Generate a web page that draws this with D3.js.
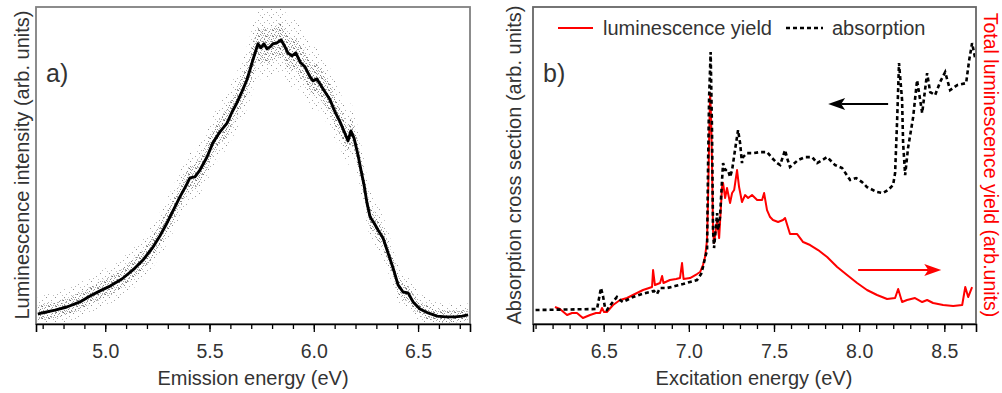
<!DOCTYPE html>
<html>
<head>
<meta charset="utf-8">
<script src="https://cdn.jsdelivr.net/npm/d3@7/dist/d3.min.js"></script>
<style>
  html, body { margin: 0; padding: 0; background: #fff; }
  svg { display: block; font-family: "Liberation Sans", Arial, Helvetica, sans-serif; }
</style>
</head>
<body>
<svg id="chart" width="1002" height="393"></svg>
<script>
// ---------------- Panel a data: emission spectrum (smoothed) ----------------
const emissionEnergy = [4.677,4.696,4.759,4.816,4.879,4.927,4.975,5.023,5.080,5.133,5.181,5.229,5.262,5.296,5.329,5.358,5.387,5.406,5.430,5.454,5.488,5.516,5.550,5.584,5.608,5.631,5.655,5.679,5.694,5.708,5.723,5.732,5.747,5.761,5.776,5.790,5.804,5.823,5.843,5.857,5.876,5.895,5.914,5.934,5.958,5.982,5.996,6.015,6.030,6.054,6.078,6.102,6.126,6.150,6.164,6.178,6.193,6.212,6.226,6.241,6.255,6.270,6.289,6.308,6.332,6.356,6.380,6.404,6.428,6.452,6.476,6.509,6.548,6.591,6.634,6.677,6.711,6.740];
const emissionIntensity = [3.5,3.9,4.9,6.0,7.8,9.9,11.7,13.4,15.9,19.1,22.6,27.2,31.1,35.7,40.6,44.9,48.8,51.6,52.0,54.4,59.0,64.0,67.9,71.0,74.9,78.1,82.0,86.2,89.8,93.3,96.8,99.0,97.6,99.0,97.2,97.9,99.0,99.3,100.4,98.6,95.8,94.7,95.8,92.6,90.8,87.3,85.9,86.6,84.8,82.0,79.2,74.9,71.4,67.2,64.7,68.2,65.7,59.7,54.4,49.1,42.8,37.8,35.7,33.2,30.4,25.1,19.8,13.8,11.3,11.0,7.8,5.3,3.9,2.8,2.5,2.5,2.8,3.2];
// half-width of the raw-data scatter around the smoothed curve
const scatterEnergy = [4.66,5.0,5.3,5.6,5.75,5.9,6.1,6.3,6.5,6.76];
const scatterSpread = [2.4,2.8,3.4,4.2,5.2,5.0,4.4,3.4,2.2,1.6];

// ---------------- Panel b data ----------------
const absEnergy = [6.100,6.461,6.484,6.496,6.508,6.519,6.549,6.578,6.596,6.613,6.672,6.725,6.772,6.795,6.813,6.831,6.872,6.919,6.966,7.007,7.048,7.072,7.083,7.095,7.107,7.113,7.119,7.128,7.136,7.142,7.148,7.166,7.172,7.183,7.195,7.201,7.213,7.230,7.242,7.254,7.271,7.289,7.301,7.312,7.318,7.342,7.377,7.418,7.459,7.489,7.518,7.536,7.565,7.577,7.594,7.641,7.683,7.724,7.753,7.812,7.859,7.900,7.947,7.982,8.017,8.046,8.105,8.140,8.170,8.199,8.211,8.223,8.234,8.252,8.258,8.270,8.287,8.317,8.340,8.370,8.399,8.417,8.446,8.475,8.505,8.534,8.575,8.628,8.646,8.663,8.681];
const absValue = [4.9,5.25,12.6,9.8,5.6,4.9,7.35,9.45,8.4,7.7,9.45,10.5,11.2,11.6,10.5,12.6,12.6,13.3,14.0,14.7,15.4,17.5,19.95,23.1,25.9,56.35,79.45,95.2,67.9,32.9,26.6,38.85,32.9,37.45,50.4,56.35,53.9,53.9,51.45,53.9,60.9,67.9,63.35,56.35,58.45,59.85,59.85,60.2,60.2,58.1,56.35,55.65,60.9,58.1,54.95,57.4,58.45,58.45,56.35,58.45,55.65,54.6,50.4,51.1,49.7,47.95,46.2,45.85,46.9,48.65,52.85,71.4,91.35,78.4,63.35,52.15,61.6,72.45,85.4,73.85,87.85,81.2,80.15,84.7,88.2,81.9,83.65,84.35,92.4,98.35,93.1];

const lumEnergy = [6.214,6.243,6.285,6.314,6.343,6.378,6.420,6.455,6.478,6.490,6.502,6.519,6.555,6.596,6.637,6.672,6.731,6.784,6.790,6.801,6.831,6.843,6.851,6.889,6.925,6.948,6.960,6.969,7.007,7.048,7.066,7.083,7.095,7.107,7.113,7.119,7.125,7.131,7.136,7.142,7.148,7.166,7.178,7.195,7.201,7.213,7.224,7.242,7.254,7.266,7.283,7.295,7.312,7.330,7.348,7.371,7.401,7.430,7.442,7.459,7.477,7.494,7.524,7.553,7.565,7.594,7.636,7.671,7.712,7.759,7.812,7.871,7.929,7.988,8.046,8.105,8.164,8.211,8.229,8.252,8.281,8.328,8.370,8.399,8.434,8.493,8.552,8.605,8.623,8.640,8.663];
const lumValue = [5.95,5.25,3.15,3.85,3.85,2.1,3.15,3.85,3.85,5.6,4.2,4.2,6.65,8.4,9.1,10.15,11.9,12.95,18.9,13.65,14.35,16.8,14.35,15.4,15.75,16.1,21.35,15.75,16.1,17.5,18.2,20.65,23.45,29.4,44.45,64.4,80.85,71.4,56.35,32.9,28.35,36.4,30.1,47.95,49.35,44.1,47.6,42.35,45.85,46.9,53.9,47.95,42.7,45.15,44.1,45.15,43.4,43.4,45.85,39.9,37.45,36.4,35.7,36.4,37.1,31.5,31.5,28.7,27.65,25.9,23.45,19.95,17.15,14.35,11.9,10.15,8.75,9.1,12.25,7.7,8.4,9.1,7.7,8.4,7.35,6.65,6.3,6.65,12.95,9.45,12.95];

// ---------------- Ticks & labels ----------------
const aMajorTicks = [5.0, 5.5, 6.0, 6.5];
const aMinorTicks = [4.7,4.8,4.9,5.0,5.1,5.2,5.3,5.4,5.5,5.6,5.7,5.8,5.9,6.0,6.1,6.2,6.3,6.4,6.5,6.6,6.7];
const bMajorTicks = [6.5, 7.0, 7.5, 8.0, 8.5];
const bMinorTicks = [6.1,6.2,6.3,6.4,6.5,6.6,6.7,6.8,6.9,7.0,7.1,7.2,7.3,7.4,7.5,7.6,7.7,7.8,7.9,8.0,8.1,8.2,8.3,8.4,8.5,8.6];
const legendLabels = ["luminescence yield", "absorption"];
// annotation arrows in data coordinates: [fromE, toE, value]
const absArrow = [8.170, 7.818, 77];
const lumArrow = [7.994, 8.482, 18.9];

// ---------------- Drawing ----------------
const svg = d3.select("#chart");
const TXT = "#333";
const FS = 19.5;

const defs = svg.append("defs");
// stipple textures for the raw-data scatter
const pd = defs.append("pattern").attr("id","dense").attr("patternUnits","userSpaceOnUse").attr("width",7).attr("height",6);
[[0,0,"#6e6e6e"],[3,1,"#959595"],[5,3,"#808080"],[1,4,"#8f8f8f"],[4,5,"#a8a8a8"],[6,0,"#a5a5a5"],[2,2,"#b0b0b0"],[6,5,"#999"],[2,5,"#bbb"]].forEach(d=>{
  pd.append("rect").attr("x",d[0]).attr("y",d[1]).attr("width",1).attr("height",1).attr("fill",d[2]);
});
const ps = defs.append("pattern").attr("id","sparse").attr("patternUnits","userSpaceOnUse").attr("width",9).attr("height",8);
[[1,1,"#909090"],[6,4,"#a8a8a8"],[3,6,"#b4b4b4"],[8,7,"#c0c0c0"]].forEach(d=>{
  ps.append("rect").attr("x",d[0]).attr("y",d[1]).attr("width",1).attr("height",1).attr("fill",d[2]);
});

function drawAxis(x, y0, major, minor) {
  svg.append("g").attr("transform",`translate(0,${y0})`)
    .call(d3.axisBottom(x).tickValues(minor).tickSize(5).tickFormat(""))
    .call(g => { g.select(".domain").remove(); g.selectAll("line").attr("stroke","#000").attr("stroke-width",1.3); });
  svg.append("g").attr("transform",`translate(0,${y0})`)
    .call(d3.axisBottom(x).tickValues(major).tickSize(8).tickPadding(12).tickFormat(d3.format(".1f")))
    .call(g => {
      g.select(".domain").attr("stroke","#000").attr("stroke-width",1.6);
      g.selectAll("line").attr("stroke","#000").attr("stroke-width",1.3);
      g.selectAll("text").attr("fill",TXT).style("font-size",FS+"px").attr("font-family",null);
    });
}

function arrow(x1, x2, y, color) {
  const dir = Math.sign(x2 - x1);
  const L = 17, W = 6, notch = 4;
  svg.append("line").attr("x1",x1).attr("x2",x2 - dir*(L-notch)).attr("y1",y).attr("y2",y)
    .attr("stroke",color).attr("stroke-width",2);
  svg.append("path")
    .attr("d",`M${x2},${y} L${x2-dir*L},${y-W} L${x2-dir*(L-notch)},${y} L${x2-dir*L},${y+W} Z`)
    .attr("fill",color);
}

// ---------- Panel a ----------
const ax = d3.scaleLinear().domain([4.668, 6.749]).range([36, 470]);
const ay = d3.scaleLinear().domain([0, 112]).range([324, 7]);
svg.append("rect").attr("x",36).attr("y",7).attr("width",434).attr("height",317)
  .attr("fill","none").attr("stroke","#808080").attr("stroke-width",1.8);

const spread = d3.scaleLinear().domain(scatterEnergy).range(scatterSpread);
const aPts = emissionEnergy.map((e,i)=>({e, v: emissionIntensity[i]}));
const clipA = defs.append("clipPath").attr("id","clipA");
clipA.append("rect").attr("x",37).attr("y",8).attr("width",432).attr("height",315);
const ga = svg.append("g").attr("clip-path","url(#clipA)");
ga.append("path").datum(aPts)
  .attr("d", d3.area().x(d=>ax(d.e)).y0(d=>ay(d.v - 2.2*spread(d.e))).y1(d=>ay(d.v + 2.5*spread(d.e))).curve(d3.curveLinear))
  .attr("fill","url(#sparse)");
ga.append("path").datum(aPts)
  .attr("d", d3.area().x(d=>ax(d.e)).y0(d=>ay(d.v - 1.1*spread(d.e))).y1(d=>ay(d.v + 1.2*spread(d.e))).curve(d3.curveLinear))
  .attr("fill","url(#dense)");
ga.append("path").datum(aPts)
  .attr("d", d3.line().x(d=>ax(d.e)).y(d=>ay(d.v)).curve(d3.curveLinear))
  .attr("fill","none").attr("stroke","#000").attr("stroke-width",2.9).attr("stroke-linejoin","round");
drawAxis(ax, 324, aMajorTicks, aMinorTicks);

svg.append("text").attr("x",46).attr("y",82).attr("fill",TXT).style("font-size","25px").text("a)");
svg.append("text").attr("transform","translate(29,165) rotate(-90)").attr("text-anchor","middle")
  .attr("fill",TXT).style("font-size","20px").text("Luminescence intensity (arb. units)");
svg.append("text").attr("x",253).attr("y",385).attr("text-anchor","middle")
  .attr("fill",TXT).style("font-size","20px").text("Emission energy (eV)");

// ---------- Panel b ----------
const bx = d3.scaleLinear().domain([6.085, 8.686]).range([533, 976]);
const byAbs = d3.scaleLinear().domain([0, 111]).range([324, 7]);
const byLum = d3.scaleLinear().domain([0, 111]).range([324, 7]);
svg.append("rect").attr("x",533).attr("y",7).attr("width",443).attr("height",317)
  .attr("fill","none").attr("stroke","#666").attr("stroke-width",1.8);

const clipB = defs.append("clipPath").attr("id","clipB");
clipB.append("rect").attr("x",534).attr("y",8).attr("width",441).attr("height",315);
const gb = svg.append("g").attr("clip-path","url(#clipB)");
gb.append("path").datum(lumEnergy.map((e,i)=>[e,lumValue[i]]))
  .attr("d", d3.line().x(d=>bx(d[0])).y(d=>byLum(d[1])))
  .attr("fill","none").attr("stroke","#ff0000").attr("stroke-width",2).attr("stroke-linejoin","round");
gb.append("path").datum(absEnergy.map((e,i)=>[e,absValue[i]]))
  .attr("d", d3.line().x(d=>bx(d[0])).y(d=>byAbs(d[1])))
  .attr("fill","none").attr("stroke","#000").attr("stroke-width",2.6).attr("stroke-dasharray","4,3");
drawAxis(bx, 324, bMajorTicks, bMinorTicks);

// legend
svg.append("line").attr("x1",558).attr("x2",593).attr("y1",28).attr("y2",28).attr("stroke","#ff0000").attr("stroke-width",2);
svg.append("text").attr("x",603).attr("y",35).attr("fill",TXT).style("font-size","20px").text(legendLabels[0]);
svg.append("line").attr("x1",786).attr("x2",823).attr("y1",28).attr("y2",28).attr("stroke","#000").attr("stroke-width",2.6).attr("stroke-dasharray","4,3");
svg.append("text").attr("x",832).attr("y",35).attr("fill",TXT).style("font-size","20px").text(legendLabels[1]);

svg.append("text").attr("x",543).attr("y",82).attr("fill",TXT).style("font-size","25px").text("b)");

// arrows
arrow(bx(absArrow[0]), bx(absArrow[1]), byAbs(absArrow[2]), "#000");
arrow(bx(lumArrow[0]), bx(lumArrow[1]), byLum(lumArrow[2]), "#ff0000");

svg.append("text").attr("transform","translate(521,165) rotate(-90)").attr("text-anchor","middle")
  .attr("fill",TXT).style("font-size","20px").text("Absorption cross section (arb. units)");
svg.append("text").attr("transform","translate(984,165) rotate(90)").attr("text-anchor","middle")
  .attr("fill","#ff0000").style("font-size","19.5px").text("Total luminescence yield (arb.units)");
svg.append("text").attr("x",754).attr("y",385).attr("text-anchor","middle")
  .attr("fill",TXT).style("font-size","20px").text("Excitation energy (eV)");
</script>
</body>
</html>
